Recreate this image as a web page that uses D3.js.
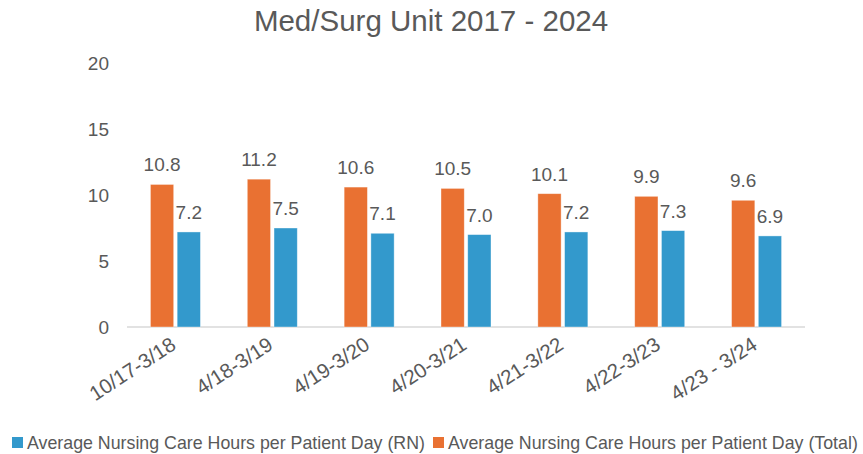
<!DOCTYPE html>
<html>
<head>
<meta charset="utf-8">
<script src="https://cdn.jsdelivr.net/npm/d3@7"></script>
<style>
  body { margin: 0; background: #fff; }
  text { font-family: "Liberation Sans", Arial, sans-serif; fill: #595959; }
</style>
</head>
<body>
<div id="chart"></div>
<script>
var periods = ["10/17-3/18", "4/18-3/19", "4/19-3/20", "4/20-3/21", "4/21-3/22", "4/22-3/23", "4/23 - 3/24"]
var totalHours = [10.8, 11.2, 10.6, 10.5, 10.1, 9.9, 9.6]
var rnHours = [7.2, 7.5, 7.1, 7.0, 7.2, 7.3, 6.9]
var yTicks = [0, 5, 10, 15, 20]
var seriesNames = ["Average Nursing Care Hours per Patient Day (Total)", "Average Nursing Care Hours per Patient Day (RN)"]
var colors = ["#E97132", "#3399CC"]

var W = 863, H = 454
var margin = {top: 63, left: 127, right: 58, bottom: 127}
var width = W - margin.left - margin.right,
    height = H - margin.top - margin.bottom

var svg = d3.select("#chart").append("svg")
    .attr("width", W)
    .attr("height", H)

// title
svg.append("text")
  .attr("x", 431)
  .attr("y", 31)
  .attr("text-anchor", "middle")
  .style("font-size", "29.5px")
  .text("Med/Surg Unit 2017 - 2024")

var g = svg.append("g")
  .attr("transform", "translate(" + margin.left + "," + margin.top + ")")

var x = d3.scaleBand()
  .domain(periods)
  .range([0, width])

var inner = d3.scaleBand()
  .domain([0, 1])
  .range([x.bandwidth() / 2 - 25, x.bandwidth() / 2 + 25])
  .paddingInner(0.13)

var y = d3.scaleLinear()
  .domain([0, 20])
  .range([height, 0])

// y tick labels
g.selectAll(".ytick")
  .data(yTicks)
  .enter().append("text")
    .attr("x", -18)
    .attr("y", function(d) { return y(d) })
    .attr("dy", "0.35em")
    .attr("text-anchor", "end")
    .style("font-size", "19px")
    .text(function(d) { return d })

// baseline
g.append("line")
  .attr("x1", 0).attr("x2", width)
  .attr("y1", y(0)).attr("y2", y(0))
  .attr("stroke", "#D9D9D9")
  .attr("stroke-width", 1.5)

var rows = []
periods.forEach(function(p, i) {
  rows.push({p: p, s: 0, v: totalHours[i]})
  rows.push({p: p, s: 1, v: rnHours[i]})
})

g.selectAll(".bar")
  .data(rows)
  .enter().append("rect")
    .attr("x", function(d) { return x(d.p) + inner(d.s) })
    .attr("y", function(d) { return y(d.v) })
    .attr("width", inner.bandwidth())
    .attr("height", function(d) { return y(0) - y(d.v) })
    .attr("fill", function(d) { return colors[d.s] })
    .attr("stroke", "#fff")
    .attr("stroke-opacity", 0.5)
    .attr("stroke-width", 0.75)

g.selectAll(".lbl")
  .data(rows)
  .enter().append("text")
    .attr("x", function(d) { return x(d.p) + inner(d.s) + inner.bandwidth() / 2 })
    .attr("y", function(d) { return y(d.v) - 13 })
    .attr("text-anchor", "middle")
    .style("font-size", "19px")
    .text(function(d) { return d.v.toFixed(1) })

// x labels, rotated
g.selectAll(".xlbl")
  .data(periods)
  .enter().append("text")
    .attr("transform", function(d) {
      return "translate(" + (x(d) + x.bandwidth() / 2 + 2) + "," + (height + 21) + ") rotate(-33)"
    })
    .attr("text-anchor", "end")
    .style("font-size", "20.5px")
    .text(function(d) { return d })

// legend
var legend = [
  {name: seriesNames[1], color: colors[1], x: 12},
  {name: seriesNames[0], color: colors[0], x: 433}
]
var lg = svg.selectAll(".leg")
  .data(legend)
  .enter().append("g")
    .attr("transform", function(d) { return "translate(" + d.x + ",437)" })
lg.append("rect")
  .attr("width", 11).attr("height", 11)
  .attr("fill", function(d) { return d.color })
lg.append("text")
  .attr("x", 15)
  .attr("y", 5.5)
  .attr("dy", "0.35em")
  .style("font-size", "17.8px")
  .text(function(d) { return d.name })
</script>
</body>
</html>
